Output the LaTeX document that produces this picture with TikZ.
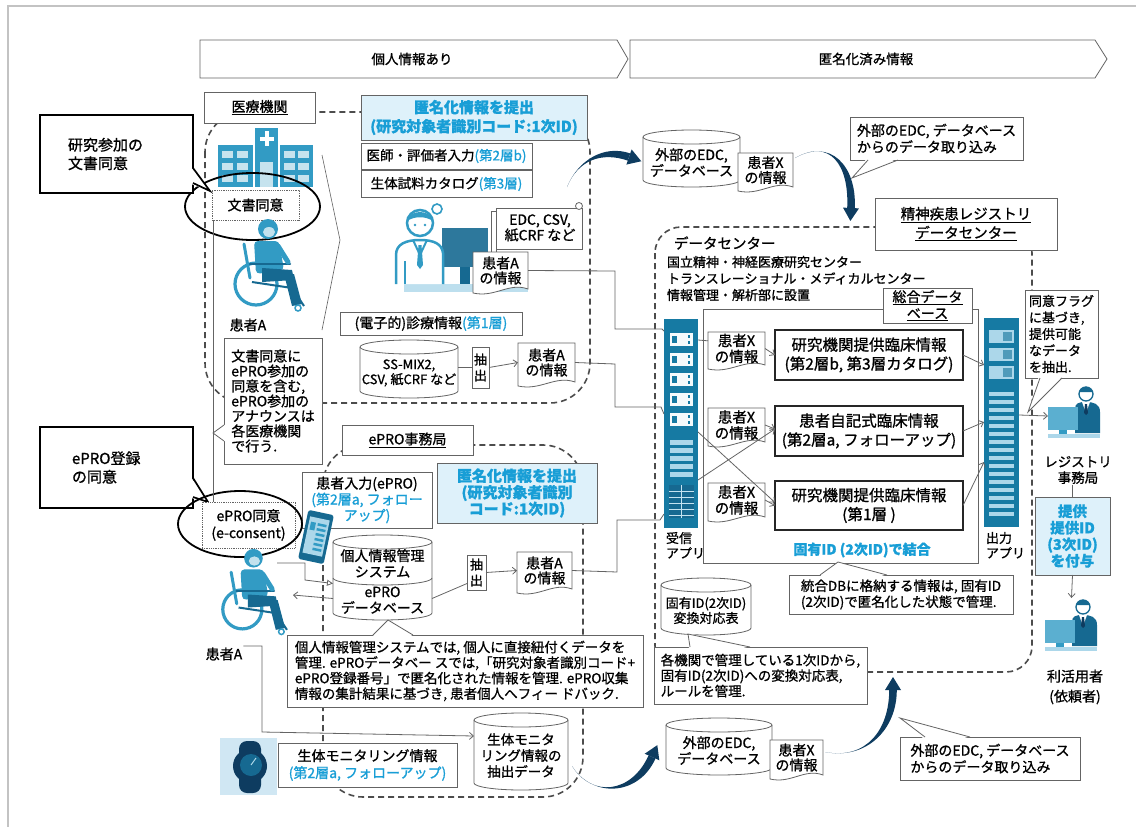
\documentclass[tikz,border=0pt]{standalone}
\usepackage{fontspec}
\setmainfont{Noto Sans CJK JP}[RawFeature={embolden=1}]
\usetikzlibrary{arrows.meta}

\definecolor{lineg}{RGB}{100,100,100}
\definecolor{boxblue}{RGB}{222,241,250}
\definecolor{txtblue}{RGB}{24,158,214}
\definecolor{iconblue}{RGB}{50,155,196}
\definecolor{icondark}{RGB}{22,105,145}
\definecolor{rackblue}{RGB}{22,122,163}
\definecolor{racklight}{RGB}{172,215,234}
\definecolor{navy}{RGB}{14,60,96}
\definecolor{framegray}{RGB}{195,195,195}
\definecolor{watchbg}{RGB}{208,231,243}

\newcommand\fsz[2]{\fontsize{#1}{#2}\selectfont}
\newcommand\blu[1]{\textcolor{txtblue}{#1}}

\tikzset{
  every node/.style={inner sep=1pt, outer sep=0pt},
  gbox/.style={draw=lineg, fill=white, line width=0.8pt, align=center, font=\fsz{13}{15.5}},
  bbox/.style={draw=lineg, fill=boxblue, line width=0.8pt, align=center, text=txtblue, font=\fsz{14}{17}\bfseries},
  heavybox/.style={draw=black!85, fill=white, line width=1.8pt, align=center, font=\fsz{15.5}{19}},
  bigcallout/.style={draw=black, fill=white, line width=1.7pt, align=left, font=\fsz{15}{18.5}},
  plain/.style={align=center, font=\fsz{13}{15.5}},
  region/.style={draw=black!70, line width=1.6pt, dash pattern=on 6pt off 4pt, rounded corners=40pt},
  conn/.style={draw=lineg, line width=0.8pt},
  arr/.style={conn, -{Straight Barb[length=4pt,width=7pt]}},
  dline/.style={draw=lineg, fill=white, line width=0.8pt},
  tailfill/.style={fill=white},
}

% database cylinder: name, x1, y1, x2, y2, font, text
\newcommand\cyl[7]{%
  \pgfmathsetmacro\cylrx{(#4-#2)/2}%
  \draw[dline] (#2,#3+7) -- (#2,#5-7) arc[start angle=180, end angle=0, x radius=\cylrx, y radius=7]
     -- (#4,#3+7) arc[start angle=0, end angle=-180, x radius=\cylrx, y radius=7] -- cycle;
  \draw[draw=lineg, line width=0.8pt] (#2,#3+7) arc[start angle=180, end angle=0, x radius=\cylrx, y radius=7];
  \node[plain, font=#6, minimum width={#4-#2}, minimum height={#5-#3-14}] (#1) at ({(#2+#4)/2},{(#3+#5)/2+4}) {#7};
}

% document sheet with a wavy lower edge: name, x1, y1, x2, y2, font, text
\newcommand\docshape[7]{%
  \pgfmathsetmacro\docw{#4-#2}%
  \draw[dline] (#2,#3) -- (#4,#3) -- (#4,#5-4) .. controls ({#4-0.35*\docw},#5-11) and ({#2+0.4*\docw},#5+5) .. (#2,#5) -- cycle;
  \node[plain, font=#6, minimum width=\docw, minimum height={#5-#3-6}] (#1) at ({(#2+#4)/2},{(#3+#5)/2-2}) {#7};
}

% tapered import arrow: start, control 1, control 2, end of body
\newcommand\swoosh[8]{%
  \pgfmathsetmacro\sdx{#7-#5}\pgfmathsetmacro\sdy{#8-#6}%
  \pgfmathsetmacro\slen{sqrt(\sdx*\sdx+\sdy*\sdy)}%
  \pgfmathsetmacro\ux{\sdx/\slen}\pgfmathsetmacro\uy{\sdy/\slen}%
  \fill[navy] (#1,#2) .. controls (#3,#4) and ({#5-3.8*\uy},{#6+3.8*\ux}) .. ({#7-3.8*\uy},{#8+3.8*\ux})
     -- ({#7+3.8*\uy},{#8-3.8*\ux}) .. controls ({#5+3.8*\uy},{#6-3.8*\ux}) and (#3,#4) .. cycle;
  \fill[navy] ({#7+13*\ux},{#8+13*\uy}) -- ({#7-8*\uy},{#8+8*\ux}) -- ({#7+8*\uy},{#8-8*\ux}) -- cycle;
}

% patient in a wheelchair
\newcommand\wheelchair[2]{%
\begin{scope}[shift={#1}, scale=#2]
  \draw[iconblue, line width=3.2pt] (24,66) circle[radius=21];
  \draw[iconblue, line width=3pt, line cap=round] (12,26) -- (18,60);
  \fill[iconblue] (36,11) circle[radius=10];
  \fill[white!70!iconblue] (37,14) ellipse[x radius=6, y radius=5];
  \fill[iconblue, rounded corners=4pt] (22,23) -- (47,23) -- (52,52) -- (24,56) -- cycle;
  \draw[icondark, line width=2.5pt, line cap=round] (18,46) -- (58,46);
  \draw[iconblue, line width=5pt, line cap=round] (46,28) -- (56,44);
  \fill[icondark] (30,50) -- (60,52) -- (62,62) -- (30,64) -- cycle;
  \fill[icondark] (52,56) -- (62,56) -- (70,86) -- (60,88) -- cycle;
  \draw[icondark, line width=2pt] (20,64) -- (60,70) -- (72,88);
  \draw[iconblue, line width=1.5pt] (66,90) circle[radius=3];
\end{scope}}

% person working at a computer
\newcommand\deskperson[1]{%
\begin{scope}[shift={#1}]
  \fill[icondark] (27,24) .. controls (27,18) and (31,17) .. (38,17) .. controls (46,17) and (52,19) .. (52,27) -- (52,48) -- (27,48) -- cycle;
  \fill[white] (34,17) -- (42,17) -- (38,28) -- cycle;
  \fill[navy] (37,19) -- (39,19) -- (40,28) -- (38,30) -- (36,28) -- cycle;
  \draw[icondark, line width=1.3pt, fill=white] (38,9) circle[radius=7];
  \fill[icondark] (31.2,7) .. controls (33,0) and (43,0) .. (44.8,7) -- cycle;
  \fill[iconblue!80] (0,22) rectangle (30,45);
  \fill[iconblue] (11,45) rectangle (19,49);
  \fill[racklight] (0,49) rectangle (52,53);
\end{scope}}

\begin{document}
\begin{tikzpicture}[x=1pt,y=-1pt]
\useasboundingbox (0,0) rectangle (1136,827);
\fill[white] (0,0) rectangle (1136,827);
\draw[framegray, line width=1.2pt] (8,827) -- (8,6) -- (1136,6);

% ---------- phase banners ----------
\draw[dline] (200,40) -- (617,40) -- (628,59) -- (617,78) -- (200,78) -- cycle;
\draw[dline] (630,40) -- (1095,40) -- (1107,59) -- (1095,78) -- (630,78) -- cycle;
\node[plain, font=\fsz{13.5}{16}] (phaseA) at (412,59) {個人情報あり};
\node[plain, font=\fsz{13.5}{16}] (phaseB) at (866,59) {匿名化済み情報};

% ---------- dashed organisation regions ----------
\draw[region] (205,112) rectangle (590,403);
\draw[region] (323,445) rectangle (583,797);
\draw[region, rounded corners=26pt] (655,227) rectangle (1032,672);

% flow chevron inside the hospital
\draw[lineg, line width=0.6pt] (322,155) -- (340,240) -- (322,330);

% ---------- hospital ----------
\fill[iconblue] (218,145) rectangle (253,187);
\fill[iconblue] (255,128) rectangle (278,187);
\fill[iconblue] (280,145) rectangle (313,187);
\fill[white] (264.5,131) rectangle (268.5,146);
\fill[white] (259.5,136.5) rectangle (273.5,140.5);
\foreach \xx in {222,237,284,298} \foreach \yy in {151,163,175} \fill[white!72!iconblue] (\xx,\yy) rectangle +(11,7);
\fill[white!72!iconblue] (260,162) rectangle (273,187);

\node[gbox, minimum width=111, minimum height=31, font=\fsz{14}{16}] (hosp) at (259.5,107.5) {\underline{医療機関}};

% consent in writing
\node[draw=lineg, densely dotted, line width=0.8pt, fill=white, minimum width=87, minimum height=30, font=\fsz{14}{16}] (cons1) at (255.5,205) {文書同意};
\draw[black, line width=1.8pt] (252.5,206.5) ellipse[x radius=67.5, y radius=33.5];

\wheelchair{(232,218)}{1}
\node[minimum width=73, minimum height=94] (pat1) at (268,265) {};
\node[plain, font=\fsz{14}{16}] (lblA1) at (248,325) {患者A};

\node[bigcallout, minimum width=153, minimum height=78, text width=97] (co1) at (116.5,154) {研究参加の\\文書同意};
\fill[tailfill] (191,167) -- (210,191) -- (191,184) -- cycle;
\draw[black, line width=1.7pt] (193,168) -- (210,191) -- (193,183);

\node[gbox, minimum width=98, minimum height=126, align=left, font=\fsz{14}{15}] (note1) at (273,401) {文書同意に\\ePRO参加の\\同意を含む,\\ePRO参加の\\アナウンスは\\各医療機関\\で行う.};
\fill[tailfill] (226,424) -- (213,433) -- (226,442) -- cycle;
\draw[lineg, line width=0.8pt] (224,425) -- (213,433) -- (224,441);

% ---------- hospital data ----------
\node[bbox, minimum width=226, minimum height=45, font=\fsz{15}{19}\bfseries] (anon1) at (474,117.5) {匿名化情報を提出\\(研究対象者識別コード:1次ID)};
\node[gbox, minimum width=171, minimum height=26, font=\fsz{13.5}{15}] (docin) at (446.5,156) {医師・評価者入力\blu{(第2層b)}};
\node[gbox, minimum width=171, minimum height=27, font=\fsz{13.5}{15}] (cat) at (446.5,184) {生体試料カタログ\blu{(第3層)}};

% doctor at a monitor
\begin{scope}[shift={(390,203)}]
  \fill[racklight!80] (14,81) rectangle (138,89);
  \fill[icondark!90] (52,25) rectangle (98,64);
  \fill[icondark] (70,64) rectangle (80,81);
  \draw[iconblue, line width=2.5pt, fill=white] (6,81) -- (6,52) .. controls (6,41) and (16,37) .. (30,37) .. controls (44,37) and (52,41) .. (53,50) -- (53,81);
  \draw[iconblue, line width=2pt] (23,37) -- (30,52) -- (37,37);
  \fill[iconblue] (28.5,42) -- (31.5,42) -- (33,62) -- (30,66) -- (27,62) -- cycle;
  \draw[iconblue, line width=2pt] (15,58) -- (15,81);
  \draw[iconblue, line width=2.5pt, fill=white] (30,20) circle[radius=13];
  \fill[iconblue] (17.2,18) .. controls (19,6) and (41,6) .. (42.8,18) .. controls (36,13) and (24,13) .. cycle;
  \fill[iconblue] (25,22) circle[radius=1.4];
  \fill[iconblue] (35,22) circle[radius=1.4];
  \draw[iconblue, line width=1.6pt, fill=white] (47,6) circle[radius=5];
\end{scope}
\node[minimum width=97, minimum height=89] (doctor) at (438.5,247.5) {};

% source formats scroll
\draw[dline] (496,208) rectangle (582,249);
\draw[dline] (491,211) rectangle (496,256);
\draw[dline] (579,206) circle[radius=3.5];
\node[plain, font=\fsz{14}{15.5}] (edcs) at (540,228) {EDC, CSV,\\紙CRF など};
\docshape{dA1}{473}{252}{528}{293}{\fsz{14}{15}}{患者A\\の情報}

% electronic medical records
\node[gbox, minimum width=182, minimum height=23, font=\fsz{14}{15}] (emr) at (431,323.5) {(電子的)診療情報\blu{(第1層)}};
\cyl{ss}{360}{340}{458}{398}{\fsz{13}{15}}{SS-MIX2,\\CSV, 紙CRF など}
\node[gbox, minimum width=17, minimum height=41, font=\fsz{13}{16}] (ext1) at (480.5,367.5) {抽\\出};
\docshape{dA2}{518}{343}{575}{386}{\fsz{14}{15}}{患者A\\の情報}
\draw[conn] (ss.east |- ext1.west) -- (ext1.west);
\draw[arr] (ext1.east) -- (dA2.west);

% ---------- ePRO office ----------
\node[gbox, minimum width=131, minimum height=30, font=\fsz{14}{16}] (eprooff) at (407.5,440) {\underline{ePRO事務局}};
\node[bbox, minimum width=160, minimum height=60, font=\fsz{15}{16.5}\bfseries] (anon2) at (517,493) {匿名化情報を提出\\(研究対象者識別\\コード:1次ID)};
\node[gbox, minimum width=130, minimum height=56, font=\fsz{14}{16}] (ptin) at (367,500) {患者入力(ePRO)\\\blu{(第2層a, フォロー}\\\blu{アップ)}};

\node[bigcallout, minimum width=153, minimum height=81, text width=89] (co2) at (116.5,467.5) {ePRO登録\\の同意};
\fill[tailfill] (191,477) -- (208,502) -- (191,498) -- cycle;
\draw[black, line width=1.7pt] (193,478) -- (208,502) -- (193,497);

\node[draw=lineg, densely dotted, line width=0.8pt, fill=white, minimum width=93, minimum height=46, align=center, font=\fsz{14}{17}] (cons2) at (248.5,525) {ePRO同意\\(e-consent)};
\draw[black, line width=1.8pt] (240,524) ellipse[x radius=62, y radius=33];
\draw[conn, line width=0.6pt] ([xshift=1pt]cons1.south west) -- ([xshift=11pt]cons2.north west);

% smartphone
\begin{scope}[shift={(316,537)}, rotate=-12]
  \fill[icondark, rounded corners=2.5pt] (-13,-25) rectangle (13,25);
  \fill[racklight] (-10,-19) rectangle (10,18);
  \foreach \yy in {-14,-9,...,14} \fill[iconblue] (-1,\yy) rectangle (8,\yy+2.5);
  \fill[iconblue] (-8,-14) rectangle (-3,-6);
\end{scope}
\node[minimum width=30, minimum height=50] (phone) at (316,537) {};

\wheelchair{(220,548)}{0.93}
\node[minimum width=67, minimum height=90] (pat2) at (253.5,593) {};
\node[plain, font=\fsz{14}{16}] (lblA2) at (224,654) {患者A};

% personal data management system / ePRO database
\cyl{pim}{333}{535}{432}{620}{\fsz{14}{16}}{個人情報管理\\システム\\[4pt]ePRO\\データベース}
\draw[lineg, line width=0.8pt] (333,578) arc[start angle=180, end angle=0, x radius=49.5, y radius=7];
\node[gbox, minimum width=19, minimum height=35, font=\fsz{13}{16}] (ext2) at (476.5,572.5) {抽\\出};
\docshape{dA3}{517}{552}{572}{593}{\fsz{14}{15}}{患者A\\の情報}
\draw[conn] ([yshift=-17pt]pim.east) -- ([yshift=-11pt]ext2.west);
\draw[arr] (ext2.east) -- (dA3.west);

\coordinate (hand) at (277,563);
\draw[conn, -{Triangle[open, length=6pt, width=6pt]}] (hand) -- (305,563) -- (305,580) -- ([yshift=-2pt]pim.west);
\draw[arr] ([yshift=-17pt]pim.west) -- ([xshift=6pt,yshift=-2pt]pat2.east);

\node[gbox, minimum width=356, minimum height=72, align=left, font=\fsz{13.5}{15.5}] (pnote) at (465,671) {個人情報管理システムでは, 個人に直接紐付くデータを\\管理. ePROデータベー スでは,「研究対象者識別コード+\\ePRO登録番号」で匿名化された情報を管理. ePRO収集\\情報の集計結果に基づき, 患者個人へフィー ドバック.};
\fill[tailfill] (372,637) -- (388,620) -- (414,637) -- cycle;
\draw[lineg, line width=0.8pt] (373,635) -- (388,620) -- (413,635);

% wearable monitoring
\fill[watchbg] (220,738) rectangle (277,795);
\fill[navy, rounded corners=8pt] (239,741) rectangle (261,793);
\fill[navy] (250,766) circle[radius=17];
\fill[icondark] (251,765) circle[radius=11];
\draw[white!60!iconblue, line width=1pt] (251,765) -- (256,758);
\node[minimum width=57, minimum height=57] (watch) at (248.5,766.5) {};
\node[gbox, minimum width=179, minimum height=44, font=\fsz{14}{17}] (biomon) at (367.5,765) {生体モニタリング情報\\\blu{(第2層a, フォローアップ)}};
\cyl{bio}{474}{713}{568}{790}{\fsz{13.5}{16}}{生体モニタ\\リング情報の\\抽出データ}
\draw[arr] ([yshift=8pt]lblA2.east) -- (262,646) -- (262,732) -- ([yshift=19.5pt]bio.west);

% ---------- external EDC (top) ----------
\cyl{edcT}{643}{130}{740}{187}{\fsz{14}{16}}{外部のEDC,\\データベース}
\docshape{dxT}{738}{153}{793}{191}{\fsz{14}{15}}{患者X\\の情報}
\node[gbox, minimum width=173, minimum height=43, align=left, font=\fsz{14}{16.5}] (coT) at (936.5,138.5) {外部のEDC, データベース\\からのデータ取り込み};
\fill[tailfill] (867,158) -- (852,178) -- (899,158) -- cycle;
\draw[lineg, line width=0.8pt] (868,160) -- (852,178) -- (898,160);

% ---------- data centre ----------
\node[gbox, minimum width=182, minimum height=52, font=\fsz{14.5}{19}] (regdc) at (966,224) {\underline{精神疾患レジストリ}\\\underline{データセンター}};
\node[plain, anchor=west, font=\fsz{14.5}{16}] (dcT) at (673,243) {データセンター};
\node[plain, anchor=north west, align=left, font=\fsz{13}{16.5}] (dcI) at (666,255) {国立精神・神経医療研究センター\\トランスレーショナル・メディカルセンター\\情報管理・解析部に設置};

\node[draw=lineg, line width=0.7pt, minimum width=275, minimum height=254] (dbFrame) at (840.5,436) {};
\node[gbox, minimum width=89, minimum height=35, font=\fsz{14}{16.5}] (sogo) at (927.5,305.5) {\underline{総合データ}\\\underline{ベース}};

% receiving application rack
\node[fill=rackblue, minimum width=34, minimum height=209] (rackIn) at (681,423.5) {};
\foreach \yy in {333,353,373,393,413} {
  \fill[white!88!racklight] (670,\yy) rectangle (693,\yy+13);
  \fill[rackblue] (672,\yy+3) rectangle (677,\yy+10);
  \fill[rackblue] (687.5,\yy+2) rectangle (689.5,\yy+5);
  \fill[rackblue] (687.5,\yy+8) rectangle (689.5,\yy+11);
}
\foreach \yy in {440,448,456,464,472} \fill[racklight] (670,\yy) rectangle (693,\yy+4.5);
\fill[icondark] (669,485) rectangle (694,518);
\foreach \yy in {491,497,...,515} \draw[racklight!70, line width=0.4pt] (669,\yy) -- (694,\yy);
\draw[racklight!70, line width=0.4pt] (681.5,485) -- (681.5,518);
\node[plain, anchor=north west, align=left, font=\fsz{13}{15}] (rackInL) at (665,531) {受信\\アプリ};

% output application rack
\node[fill=rackblue, minimum width=35, minimum height=209] (rackOut) at (1001.5,422.5) {};
\foreach \yy in {330,348,366} {
  \fill[racklight] (989,\yy) rectangle (1014,\yy+13);
  \fill[rackblue!75] (1003,\yy+2) rectangle (1012,\yy+11);
}
\foreach \yy in {392,400,...,512} \fill[racklight] (989,\yy) rectangle (1014,\yy+4);
\node[plain, anchor=north west, align=left, font=\fsz{13}{15}] (rackOutL) at (985,531) {出力\\アプリ};

% patient data sheets and integrated tables
\docshape{D1}{708}{332}{765}{369}{\fsz{14.5}{16}}{患者X\\の情報}
\docshape{D2}{708}{408}{765}{446}{\fsz{14.5}{16}}{患者X\\の情報}
\docshape{D3}{708}{483}{765}{521}{\fsz{14.5}{16}}{患者X\\の情報}
\node[heavybox, minimum width=188, minimum height=50] (B1) at (869,355) {研究機関提供臨床情報\\(第2層b, 第3層カタログ)};
\node[heavybox, minimum width=188, minimum height=50] (B2) at (869,431) {患者自記式臨床情報\\(第2層a, フォローアップ)};
\node[heavybox, minimum width=188, minimum height=49] (B3) at (869,505.5) {研究機関提供臨床情報\\(第1層 )};
\node[plain, text=txtblue, font=\fsz{14}{16}\bfseries] (joinL) at (862,550) {固有ID (2次ID)で結合};

% incoming connections
\draw[conn] (dA1.east) -- (615,271) -- (615,329) -- (662,329) -- ([yshift=-12pt]rackIn.north west);
\draw[conn] (dA2.east) -- (615,364) -- (615,407) -- (661,407) -- ([yshift=-95pt]rackIn.north west);
\draw[conn] (dA3.east) -- (617,572) -- (617,520) -- (660,520) -- ([yshift=14pt]rackIn.south west);

\draw[conn] ([yshift=-21pt]rackIn.north east) -- ([yshift=-8pt]D1.north west);
\draw[arr] (D1.east) -- (B1.west);
\draw[arr] (D2.east) -- ([yshift=2pt]B2.west);
\draw[arr] (D3.east) -- (B3.west);
\draw[arr] ([yshift=-113pt]rackIn.north east) -- ([yshift=3pt]B3.west);
\draw[arr] ([yshift=-161pt]rackIn.north east) -- ([yshift=2pt]B2.west);
\draw[arr] (B1.east) -- ([yshift=-47pt]rackOut.north west);
\draw[arr] (B2.east) -- ([yshift=-104pt]rackOut.north west);
\draw[arr] (B3.east) -- ([yshift=-144pt]rackOut.north west);

% callouts inside the data centre
\node[gbox, minimum width=224, minimum height=39, align=left, font=\fsz{13.5}{16}] (coDB) at (901,594.5) {統合DBに格納する情報は, 固有ID\\(2次ID)で匿名化した状態で管理.};
\fill[tailfill] (819,577) -- (838,562) -- (888,577) -- cycle;
\draw[lineg, line width=0.8pt] (820,575) -- (838,562) -- (887,575);

\cyl{cyID}{661}{578}{751}{635}{\fsz{13}{15}}{固有ID(2次ID)\\変換対応表}
\node[gbox, minimum width=213, minimum height=57, align=left, font=\fsz{13.5}{15.5}] (coID) at (760.5,675.5) {各機関で管理している1次IDから,\\固有ID(2次ID)への変換対応表,\\ルールを管理.};
\fill[tailfill] (689,649) -- (688,633) -- (751,649) -- cycle;
\draw[lineg, line width=0.8pt] (690,647) -- (688,634) -- (750,647);

% ---------- external EDC (bottom) ----------
\cyl{edcB}{666}{718}{772}{775}{\fsz{14}{16}}{外部のEDC,\\データベース}
\docshape{dxB}{770}{740}{823}{779}{\fsz{14}{15}}{患者X\\の情報}
\node[gbox, minimum width=180, minimum height=43, align=left, font=\fsz{14}{16.5}] (coB) at (990,758.5) {外部のEDC, データベース\\からのデータ取り込み};
\fill[tailfill] (924,739) -- (900,718) -- (971,739) -- cycle;
\draw[lineg, line width=0.8pt] (925,737) -- (900,718) -- (970,737);

% ---------- registry office and users ----------
\node[gbox, minimum width=73, minimum height=88, align=left, font=\fsz{13}{16.5}] (flag) at (1061.5,334) {同意フラグ\\に基づき,\\提供可能\\なデータ\\を抽出.};
\fill[tailfill] (1039,376) -- (1028,412) -- (1063,376) -- cycle;
\draw[lineg, line width=0.8pt] (1040,378) -- (1028,412) -- (1062,378);

\deskperson{(1048,385)}
\node[minimum width=52, minimum height=62] (p1) at (1074,416) {};
\draw[arr] ([yshift=-97pt]rackOut.north east) -- (p1.west);
\node[plain, font=\fsz{13.5}{16}] (regL) at (1078,470) {レジストリ\\事務局};
\node[bbox, minimum width=75, minimum height=78, font=\fsz{14.5}{16.5}\bfseries] (give) at (1072.5,536) {提供\\提供ID\\(3次ID)\\を付与};
\draw[conn] (regL.south -| give.north) -- (give.north);
\deskperson{(1045,598)}
\node[minimum width=53, minimum height=59] (p2) at (1071.5,627.5) {};
\draw[arr] (give.south) -- (p2.north);
\node[plain, font=\fsz{14}{20}] (useL) at (1075,687) {利活用者\\(依頼者)};

% ---------- data import flows ----------
\swoosh{567}{187}{578}{160}{603}{148}{629}{157}
\swoosh{795}{158}{830}{138}{853}{165}{851}{208}
\swoosh{572}{766}{592}{798}{635}{795}{652}{757}
\swoosh{825}{752}{866}{760}{893}{730}{893}{690}
\end{tikzpicture}
\end{document}
